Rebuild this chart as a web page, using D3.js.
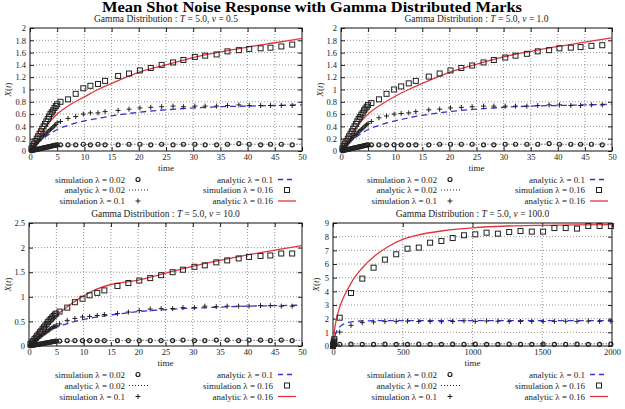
<!DOCTYPE html>
<html>
<head>
<meta charset="UTF-8">
<title>Gamma Distribution shot noise</title>
<style>
  body { margin: 0; background: #fff; }
  text { font-family: "Liberation Serif", "DejaVu Serif", serif; fill: #222; }
  .tick text { font-size: 8.5px; fill: #222; }
  .tick line { stroke: #222; }
  .grid line { stroke: #777; stroke-width: 0.8; stroke-dasharray: 1,2; }
</style>
<script src="https://cdn.jsdelivr.net/npm/d3@7"></script>
</head>
<body>
<svg width="625" height="409"></svg>
<script>
// ---- data ----
var simTime = [0.25,0.5,0.75,1,1.25,1.5,1.75,2,2.25,2.5,2.75,3,3.25,3.5,3.75,4,4.25,4.5,4.75,5,
               5.6,7,8.4,9.8,11.1,12.5,13.8,16.2,18.2,20.2,22.2,24.2,26.3,28.2,30.3,32.2,34.3,36.3,38.4,40.3,42.4,44.2,46.2,48.2];
var anaTime = [0,0.5,1,2,3,4,5,7.5,10,12.5,15,20,25,30,35,40,45,50];

// v = 0.5
var p1Sim002 = [0.005,0.01,0.016,0.021,0.026,0.031,0.036,0.041,0.046,0.051,0.056,0.061,0.066,0.071,0.076,0.081,0.086,0.091,0.096,0.1,
                0.1,0.1,0.1,0.11,0.1,0.11,0.1,0.1,0.11,0.11,0.1,0.11,0.1,0.11,0.11,0.1,0.1,0.11,0.12,0.11,0.1,0.11,0.11,0.1];
var p1Sim010 = [0.03,0.055,0.08,0.11,0.13,0.16,0.18,0.2,0.23,0.25,0.27,0.29,0.31,0.33,0.35,0.37,0.39,0.41,0.43,0.46,
                0.48,0.53,0.56,0.6,0.62,0.62,0.64,0.66,0.68,0.7,0.71,0.72,0.73,0.72,0.73,0.73,0.73,0.74,0.75,0.74,0.74,0.74,0.74,0.74];
var p1Sim016 = [0.04,0.08,0.12,0.16,0.2,0.24,0.28,0.32,0.36,0.4,0.44,0.48,0.52,0.56,0.6,0.63,0.66,0.7,0.73,0.76,
                0.8,0.84,0.93,1.02,1.06,1.09,1.14,1.22,1.26,1.31,1.35,1.4,1.44,1.48,1.53,1.55,1.57,1.62,1.64,1.66,1.67,1.68,1.7,1.73];
var p1Ana002 = [0,0.01,0.02,0.04,0.06,0.075,0.085,0.1,0.105,0.108,0.11,0.11,0.11,0.11,0.11,0.11,0.11,0.11];
var p1Ana010 = [0,0.05,0.1,0.18,0.24,0.3,0.35,0.43,0.49,0.53,0.57,0.63,0.67,0.7,0.72,0.73,0.74,0.75];
var p1Ana016 = [0,0.09,0.17,0.3,0.41,0.51,0.6,0.76,0.88,1.0,1.1,1.28,1.4,1.52,1.61,1.69,1.76,1.83];

// v = 1.0
var p2Sim002 = [0.005,0.01,0.015,0.02,0.025,0.03,0.036,0.041,0.046,0.051,0.056,0.061,0.066,0.071,0.076,0.081,0.086,0.091,0.096,0.1,
                0.1,0.1,0.1,0.1,0.1,0.1,0.1,0.1,0.11,0.11,0.11,0.11,0.1,0.1,0.11,0.11,0.11,0.11,0.12,0.11,0.11,0.11,0.11,0.1];
var p2Sim010 = [0.03,0.055,0.08,0.1,0.13,0.15,0.18,0.2,0.22,0.25,0.27,0.29,0.31,0.33,0.35,0.37,0.39,0.41,0.43,0.45,
                0.48,0.54,0.57,0.6,0.61,0.62,0.64,0.67,0.68,0.7,0.71,0.72,0.73,0.73,0.73,0.73,0.73,0.74,0.75,0.75,0.74,0.74,0.75,0.75];
var p2Sim016 = [0.04,0.08,0.12,0.16,0.2,0.24,0.28,0.32,0.36,0.4,0.44,0.48,0.52,0.55,0.59,0.62,0.66,0.69,0.72,0.75,
                0.78,0.84,0.93,1.0,1.05,1.1,1.14,1.21,1.26,1.31,1.35,1.39,1.44,1.48,1.52,1.55,1.58,1.62,1.64,1.67,1.68,1.69,1.71,1.72];
var p2Ana002 = [0,0.01,0.02,0.04,0.06,0.075,0.085,0.1,0.105,0.108,0.11,0.11,0.11,0.11,0.11,0.11,0.11,0.11];
var p2Ana010 = [0,0.05,0.1,0.18,0.24,0.3,0.35,0.43,0.49,0.54,0.58,0.64,0.68,0.71,0.73,0.74,0.75,0.76];
var p2Ana016 = [0,0.09,0.17,0.3,0.41,0.51,0.6,0.76,0.89,1.0,1.1,1.28,1.41,1.53,1.62,1.7,1.77,1.84];

// v = 10.0
var p3Sim002 = [0.005,0.01,0.016,0.021,0.026,0.031,0.036,0.041,0.046,0.051,0.056,0.061,0.066,0.071,0.076,0.081,0.086,0.091,0.096,0.1,
                0.1,0.11,0.11,0.11,0.11,0.11,0.11,0.11,0.11,0.11,0.11,0.11,0.11,0.12,0.11,0.11,0.12,0.12,0.11,0.12,0.12,0.11,0.12,0.11];
var p3Sim010 = [0.025,0.05,0.075,0.1,0.12,0.14,0.16,0.19,0.21,0.23,0.25,0.27,0.29,0.31,0.33,0.35,0.37,0.39,0.4,0.42,
                0.45,0.52,0.56,0.59,0.6,0.62,0.64,0.66,0.69,0.72,0.75,0.76,0.76,0.78,0.78,0.81,0.8,0.81,0.81,0.81,0.82,0.82,0.81,0.81];
var p3Sim016 = [0.035,0.07,0.1,0.14,0.17,0.21,0.24,0.28,0.31,0.35,0.38,0.42,0.45,0.49,0.52,0.55,0.58,0.61,0.64,0.66,
                0.7,0.78,0.89,0.96,1.03,1.08,1.13,1.22,1.28,1.33,1.38,1.44,1.5,1.55,1.61,1.64,1.7,1.74,1.78,1.81,1.83,1.84,1.88,1.88];
var p3Ana002 = [0,0.01,0.02,0.04,0.06,0.075,0.085,0.1,0.107,0.11,0.112,0.115,0.115,0.115,0.115,0.115,0.115,0.115];
var p3Ana010 = [0,0.05,0.1,0.19,0.26,0.33,0.38,0.47,0.54,0.59,0.63,0.7,0.74,0.77,0.79,0.81,0.82,0.83];
var p3Ana016 = [0,0.09,0.17,0.31,0.42,0.53,0.62,0.84,1.02,1.16,1.25,1.34,1.48,1.62,1.74,1.85,1.95,2.04];

// v = 100.0
var simTime4 = [0,2,4,6,8,10,
                48,129,210,291,372,453,534,615,696,777,858,939,1020,1101,1182,1263,1344,1425,1506,1587,1668,1749,1830,1911,1992];
var anaTime4 = [0,5,10,25,50,75,100,150,200,300,400,500,600,800,1000,1250,1500,1750,2000];
var p4Sim002 = [0,0.02,0.04,0.06,0.08,0.1,
                0.12,0.13,0.12,0.12,0.13,0.12,0.12,0.13,0.12,0.12,0.13,0.12,0.13,0.12,0.12,0.13,0.12,0.12,0.13,0.12,0.12,0.13,0.12,0.12,0.13];
var p4Sim010 = [0,0.08,0.16,0.24,0.3,0.36,
                1.02,1.51,1.71,1.76,1.8,1.8,1.82,1.79,1.8,1.78,1.79,1.84,1.8,1.83,1.81,1.8,1.79,1.8,1.79,1.8,1.81,1.8,1.82,1.81,1.81];
var p4Sim016 = [0,0.1,0.2,0.3,0.4,0.5,
                2.07,3.88,4.93,5.73,6.32,6.71,7.12,7.2,7.56,7.68,7.9,8.1,8.17,8.29,8.22,8.34,8.41,8.37,8.37,8.63,8.63,8.59,8.78,8.78,8.78];
var p4Ana002 = [0,0.03,0.05,0.09,0.12,0.14,0.15,0.16,0.16,0.16,0.16,0.16,0.16,0.16,0.16,0.16,0.16,0.16,0.16];
var p4Ana010 = [0,0.35,0.6,1.05,1.42,1.6,1.7,1.79,1.83,1.85,1.85,1.85,1.85,1.85,1.85,1.85,1.85,1.85,1.85];
var p4Ana016 = [0,0.6,1.1,2.0,2.9,3.55,4.05,4.95,5.6,6.6,7.3,7.8,8.1,8.45,8.65,8.78,8.83,8.86,8.88];

var vValues = ["0.5", "1.0", "10.0", "100.0"];
var xTicksA = [0,5,10,15,20,25,30,35,40,45,50];
var xTicks4 = [0,500,1000,1500,2000];
var yTicks12 = [0,0.2,0.4,0.6,0.8,1,1.2,1.4,1.6,1.8,2];
var yTicks3 = [0,0.5,1,1.5,2,2.5];
var yTicks4 = [0,1,2,3,4,5,6,7,8,9];

var legendLeft = ["simulation \u03bb = 0.02", "analytic \u03bb = 0.02", "simulation \u03bb = 0.1"];
var legendRight = ["analytic \u03bb = 0.1", "simulation \u03bb = 0.16", "analytic \u03bb = 0.16"];

// ---- layout ----
var svg = d3.select("svg");
var RED = "#e2363c", BLUE = "#3434cc";

svg.append("text")
    .attr("x", 312).attr("y", 12)
    .attr("text-anchor", "middle")
    .attr("textLength", 420).attr("lengthAdjust", "spacingAndGlyphs")
    .style("font-size", "15px").style("font-weight", "bold").style("fill", "#000")
    .text("Mean Shot Noise Response with Gamma Distributed Marks");

var panels = [
    {cell: 0,   x0: 30,  x1: 302, yTop: 28,  yBot: 151, base: 0,   xd: [0,50],   yd: [0,2],   xt: xTicksA, yt: yTicks12,
     st: simTime, at: anaTime, s: [p1Sim002,p1Sim010,p1Sim016], a: [p1Ana002,p1Ana010,p1Ana016], v: vValues[0]},
    {cell: 312, x0: 341, x1: 612, yTop: 28,  yBot: 151, base: 0,   xd: [0,50],   yd: [0,2],   xt: xTicksA, yt: yTicks12,
     st: simTime, at: anaTime, s: [p2Sim002,p2Sim010,p2Sim016], a: [p2Ana002,p2Ana010,p2Ana016], v: vValues[1]},
    {cell: 0,   x0: 29,  x1: 302, yTop: 223, yBot: 346, base: 195, xd: [0,50],   yd: [0,2.5], xt: xTicksA, yt: yTicks3,
     st: simTime, at: anaTime, s: [p3Sim002,p3Sim010,p3Sim016], a: [p3Ana002,p3Ana010,p3Ana016], v: vValues[2]},
    {cell: 312, x0: 333, x1: 612, yTop: 223, yBot: 346, base: 195, xd: [0,2000], yd: [0,9],   xt: xTicks4, yt: yTicks4,
     st: simTime4, at: anaTime4, s: [p4Sim002,p4Sim010,p4Sim016], a: [p4Ana002,p4Ana010,p4Ana016], v: vValues[3]}
];

function marker(g, kind, cx, cy) {
    if (kind === "circle") {
        g.append("circle").attr("cx", cx).attr("cy", cy).attr("r", 2)
            .attr("fill", "none").attr("stroke", "#222").attr("stroke-width", 1.2);
    } else if (kind === "plus") {
        g.append("path").attr("d", "M" + (cx-2.5) + "," + cy + "h5M" + cx + "," + (cy-2.5) + "v5")
            .attr("stroke", "#222").attr("stroke-width", 1);
    } else {
        g.append("rect").attr("x", cx-2.5).attr("y", cy-2.5).attr("width", 5).attr("height", 5)
            .attr("fill", "none").attr("stroke", "#222").attr("stroke-width", 1);
    }
}

var lineStyles = [
    {stroke: "#222", dash: "1,2", width: 1},
    {stroke: BLUE, dash: "6,4", width: 1.3},
    {stroke: RED, dash: null, width: 1.3}
];
var markerKinds = ["circle", "plus", "square"];

panels.forEach(function(p, pi) {
    var g = svg.append("g");
    var x = d3.scaleLinear().domain(p.xd).range([p.x0, p.x1]);
    var y = d3.scaleLinear().domain(p.yd).range([p.yBot, p.yTop]);

    // grid
    var grid = g.append("g").attr("class", "grid");
    grid.selectAll(".gx").data(p.xt.slice(1, -1)).enter().append("line")
        .attr("x1", d => x(d)).attr("x2", d => x(d)).attr("y1", p.yTop).attr("y2", p.yBot);
    grid.selectAll(".gy").data(p.yt.slice(1, -1)).enter().append("line")
        .attr("x1", p.x0).attr("x2", p.x1).attr("y1", d => y(d)).attr("y2", d => y(d));

    // axes with inward ticks
    var fmt = d => String(d);
    var ax = g.append("g").attr("transform", "translate(0," + p.yBot + ")")
        .call(d3.axisBottom(x).tickValues(p.xt).tickSize(-4).tickPadding(3).tickFormat(fmt));
    var ay = g.append("g").attr("transform", "translate(" + p.x0 + ",0)")
        .call(d3.axisLeft(y).tickValues(p.yt).tickSize(-4).tickPadding(4).tickFormat(fmt));
    var at = g.append("g").attr("transform", "translate(0," + p.yTop + ")")
        .call(d3.axisTop(x).tickValues(p.xt).tickSize(-4).tickFormat(""));
    var ar = g.append("g").attr("transform", "translate(" + p.x1 + ",0)")
        .call(d3.axisRight(y).tickValues(p.yt).tickSize(-4).tickFormat(""));
    [ax, ay, at, ar].forEach(a => { a.select(".domain").remove(); a.selectAll("text").style("font-family", null); });

    g.append("rect").attr("x", p.x0).attr("y", p.yTop)
        .attr("width", p.x1 - p.x0).attr("height", p.yBot - p.yTop)
        .attr("fill", "none").attr("stroke", "#111").attr("stroke-width", 1);

    // titles
    var t = g.append("text").attr("x", (p.x0 + p.x1) / 2).attr("y", p.base + 21.5)
        .attr("text-anchor", "middle").style("font-size", "9.5px");
    t.append("tspan").text("Gamma Distribution : ");
    t.append("tspan").style("font-style", "italic").text("T");
    t.append("tspan").text(" = 5.0, ");
    t.append("tspan").style("font-style", "italic").text("v");
    t.append("tspan").text(" = " + p.v);

    g.append("text").attr("x", (p.x0 + p.x1) / 2).attr("y", p.yBot + 19.5)
        .attr("text-anchor", "middle").style("font-size", "9px").text("time");

    var yl = g.append("text")
        .attr("transform", "translate(" + (p.cell + (pi === 3 ? 7 : 11)) + "," + ((p.yTop + p.yBot) / 2) + ") rotate(-90)")
        .attr("text-anchor", "middle").style("font-size", "9px");
    yl.append("tspan").style("font-style", "italic").text("X");
    yl.append("tspan").text("(");
    yl.append("tspan").style("font-style", "italic").text("t");
    yl.append("tspan").text(")");

    // analytic curves
    p.a.forEach(function(vals, k) {
        var ls = lineStyles[k];
        var line = d3.line().x((d, i) => x(p.at[i])).y(d => y(d)).curve(d3.curveMonotoneX);
        g.append("path").attr("d", line(vals))
            .attr("fill", "none").attr("stroke", ls.stroke).attr("stroke-width", ls.width)
            .attr("stroke-dasharray", ls.dash);
    });

    // simulation points
    p.s.forEach(function(vals, k) {
        var mg = g.append("g");
        vals.forEach(function(v, i) { marker(mg, markerKinds[k], x(p.st[i]), y(v)); });
    });

    // legend
    var lg = g.append("g").style("font-size", "9px");
    var rows = p.base > 0 ? [377.5, 388.5, 399.5] : [182.5, 193, 204];
    legendLeft.forEach(function(label, i) {
        lg.append("text").attr("x", p.cell + 125).attr("y", rows[i]).attr("text-anchor", "end").text(label);
        var cy = rows[i] - 3;
        if (i === 0) marker(lg, "circle", p.cell + 138, cy);
        if (i === 1) lg.append("line").attr("x1", p.cell + 129).attr("x2", p.cell + 148).attr("y1", cy).attr("y2", cy)
            .attr("stroke", "#222").attr("stroke-dasharray", "1,2");
        if (i === 2) marker(lg, "plus", p.cell + 138, cy);
    });
    legendRight.forEach(function(label, i) {
        lg.append("text").attr("x", p.cell + 273).attr("y", rows[i]).attr("text-anchor", "end").text(label);
        var cy = rows[i] - 3;
        if (i === 0) lg.append("line").attr("x1", p.cell + 278).attr("x2", p.cell + 295).attr("y1", cy).attr("y2", cy)
            .attr("stroke", BLUE).attr("stroke-width", 1.3).attr("stroke-dasharray", "5,4");
        if (i === 1) marker(lg, "square", p.cell + 287, cy);
        if (i === 2) lg.append("line").attr("x1", p.cell + 278).attr("x2", p.cell + 296).attr("y1", cy).attr("y2", cy)
            .attr("stroke", RED).attr("stroke-width", 1.3);
    });
});
</script>
</body>
</html>
